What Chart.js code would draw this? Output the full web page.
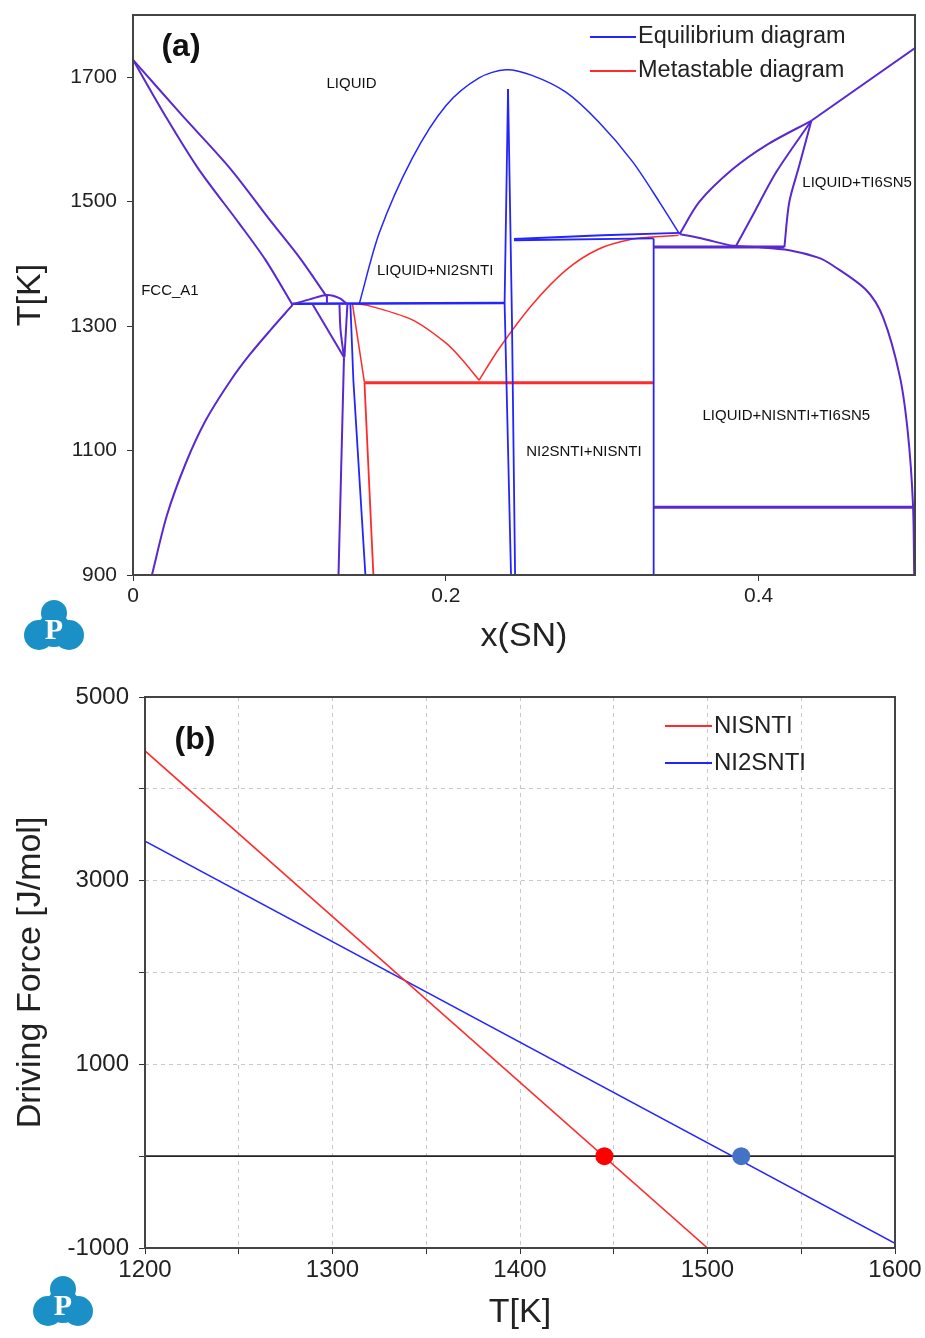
<!DOCTYPE html>
<html lang="en">
<head>
<meta charset="UTF-8">
<title>Ni-Sn-Ti phase diagram and driving force</title>
<script src="https://cdn.jsdelivr.net/npm/chart.js"></script>
<style>
  body { margin: 0; background: #fff; }
  #wrap { position: relative; width: 925px; height: 1338px; }
  canvas { position: absolute; left: 0; }
</style>
</head>
<body>
<div id="wrap">
  <canvas id="phaseChart" width="925" height="670" style="top:0"></canvas>
  <canvas id="forceChart" width="925" height="668" style="top:670px"></canvas>
</div>
<script>
// ---------- (a) phase diagram data: [x(SN), T] ----------
const phaseXTicks = [0, 0.2, 0.4];
const phaseYTicks = [900, 1100, 1300, 1500, 1700];

// lines shared by the equilibrium and metastable diagrams (drawn purple)
const fccLiquidus = [[0,1728],[0.0313,1639],[0.0619,1554],[0.0886,1467],[0.1065,1410],[0.1237,1348]];
const fccSolidus = [[0,1728],[0.0204,1639],[0.0415,1554],[0.0682,1464],[0.0848,1406],[0.102,1334]];
const fccSolvus = [[0.102,1334],[0.088,1294],[0.0746,1254],[0.0625,1213],[0.0466,1149],[0.0338,1080],[0.0217,996],[0.0121,900]];
const smallDome = [[0.102,1335],[0.113,1343],[0.124,1350],[0.132,1345],[0.1365,1336]];
const lensLeft = [[0.132,1335],[0.1327,1294],[0.1349,1250]];
const nisntiLiquidus = [[0.3495,1448],[0.365,1440],[0.3839,1429],[0.40,1427],[0.4196,1422],[0.4381,1410],[0.4477,1397],[0.4688,1358],[0.4796,1314],[0.4904,1218],[0.4955,1127],[0.4987,1014],[0.4995,900]];
const ti6sn5Liquidus = [[0.3495,1448],[0.3622,1500],[0.3833,1552],[0.405,1591],[0.4337,1630]];
const ti6sn5Left = [[0.3852,1427],[0.396,1477],[0.4114,1548],[0.4337,1630]];
const ti6sn5Right = [[0.4165,1427],[0.4196,1499],[0.426,1558],[0.4337,1630]];

const domeTie = [[0.124,1350],[0.124,1336]];
const eutecticDiag = [[0.1148,1335],[0.1349,1250]];
const lensRight = [[0.1371,1336],[0.1352,1250]];
const ni3snLine = [[0.1349,1250],[0.1314,900]];
const snLiquidus = [[0.4337,1630],[0.5,1747]];
const peritecticLine = [[0.3329,1427],[0.4165,1427]];
const ternaryLine = [[0.3329,1009],[0.4987,1009]];

// equilibrium only (blue)
const ni2sntiLiquidus = [[0.1448,1337],[0.1575,1450],[0.1786,1570],[0.2003,1655],[0.2213,1699],[0.2385,1712],[0.2551,1703],[0.2768,1676],[0.2978,1628],[0.3195,1564],[0.3367,1499],[0.3495,1448]];
const ni2sntiLeft = [[0.139,1335],[0.1409,1213],[0.1486,900]];
const eutecticLine = [[0.102,1336],[0.2379,1337]];
const spikeLeft = [[0.2398,1681],[0.2376,1337],[0.2417,900]];
const spikeRight = [[0.2398,1681],[0.2423,1310],[0.2443,900]];
const wedgeTop = [[0.2436,1440],[0.30,1446],[0.3495,1450]];
const wedgeBottom = [[0.2436,1438],[0.3329,1441]];
const nisntiLine = [[0.3329,1441],[0.3329,900]];

// metastable only (red)
const metaLiquidusL = [[0.1403,1336],[0.149,1334],[0.1786,1310],[0.20,1273],[0.2105,1246],[0.2213,1213]];
const metaLiquidusR = [[0.2213,1213],[0.2341,1264],[0.2551,1334],[0.2768,1390],[0.2978,1424],[0.3195,1440],[0.3361,1444],[0.3488,1446]];
const metaNi2snti = [[0.1403,1336],[0.1435,1283],[0.148,1209]];
const metaNi2sntiLow = [[0.148,1209],[0.1537,900]];
const metaEutectic = [[0.148,1209],[0.3329,1209]];

const phaseLabels = ['LIQUID', 'FCC_A1', 'LIQUID+NI2SNTI', 'LIQUID+TI6SN5', 'LIQUID+NISNTI+TI6SN5', 'NI2SNTI+NISNTI'];
const phaseLabelX = [0.1397, 0.0236, 0.1932, 0.4630, 0.4177, 0.2883];
const phaseLabelT = [1689, 1356, 1389, 1530, 1156, 1098];

// ---------- (b) driving force data ----------
const forceXTicks = [1200, 1250, 1300, 1350, 1400, 1450, 1500, 1550, 1600];
const forceYTicks = [-1000, 0, 1000, 2000, 3000, 4000, 5000];
const nisntiT = [1200, 1500];
const nisntiDF = [4413, -1000];
const ni2sntiT = [1200, 1600];
const ni2sntiDF = [3430, -950];
const zeroT = [1200, 1600];
const zeroDF = [0, 0];
const crossT = [1445, 1518];
const crossDF = [0, 0];

const PURPLE = '#5a28d0', BLUE = '#2424ff', RED = '#ff2a2a';

Chart.defaults.font.family = "'Liberation Sans', Arial, Helvetica, sans-serif";
Chart.defaults.color = '#222';

function curveSet(curves, color, width, order, tension) {
  return curves.map(c => ({
    data: c.map(p => ({ x: p[0], y: p[1] })),
    borderColor: color,
    borderWidth: width,
    pointRadius: 0,
    showLine: true,
    fill: false,
    tension: tension,
    order: order
  }));
}

function drawLogo(ctx, cx, cy) {
  ctx.save();
  ctx.fillStyle = '#1a90c6';
  [[0, -14, 13], [-15, 8, 15], [15, 8, 15], [0, 3, 17]].forEach(c => {
    ctx.beginPath();
    ctx.arc(cx + c[0], cy + c[1], c[2], 0, Math.PI * 2);
    ctx.fill();
  });
  ctx.fillStyle = '#fff';
  ctx.font = "bold 30px 'Liberation Serif', 'DejaVu Serif', serif";
  ctx.textAlign = 'center';
  ctx.textBaseline = 'middle';
  ctx.fillText('P', cx, cy + 4);
  ctx.restore();
}

function legendRow(ctx, x1, x2, y, color, text, size) {
  ctx.strokeStyle = color;
  ctx.lineWidth = 2;
  ctx.beginPath();
  ctx.moveTo(x1, y);
  ctx.lineTo(x2, y);
  ctx.stroke();
  ctx.fillStyle = '#222';
  ctx.font = size + "px 'Liberation Sans', Arial, sans-serif";
  ctx.textAlign = 'left';
  ctx.textBaseline = 'middle';
  ctx.fillText(text, x2 + 2, y);
}

// the scales' own edge padding is dropped so the plot area sits where the layout puts it
function fixX(h) { return s => { s.height = h; s.paddingLeft = 0; s.paddingRight = 0; }; }
function fixY(w) { return s => { s.width = w; s.paddingTop = 0; s.paddingBottom = 0; }; }

const framePlugin = {
  id: 'frame',
  afterDatasetsDraw(chart) {
    const { ctx, chartArea: a } = chart;
    ctx.save();
    ctx.strokeStyle = '#444';
    ctx.lineWidth = 2;
    ctx.strokeRect(a.left, a.top, a.right - a.left, a.bottom - a.top);
    ctx.restore();
  }
};

const phaseDecor = {
  id: 'phaseDecor',
  afterDraw(chart) {
    const { ctx, scales: { x, y } } = chart;
    ctx.save();
    ctx.fillStyle = '#111';
    ctx.font = "15px 'Liberation Sans', Arial, sans-serif";
    ctx.textAlign = 'center';
    ctx.textBaseline = 'middle';
    phaseLabels.forEach((t, i) => ctx.fillText(t, x.getPixelForValue(phaseLabelX[i]), y.getPixelForValue(phaseLabelT[i])));
    ctx.font = "bold 32px 'Liberation Sans', Arial, sans-serif";
    ctx.fillText('(a)', 181, 47);
    legendRow(ctx, 590, 636, 37, BLUE, 'Equilibrium diagram', 23.5);
    legendRow(ctx, 590, 636, 71, RED, 'Metastable diagram', 23.5);
    ctx.restore();
    drawLogo(ctx, 54, 627);
  }
};

const forceDecor = {
  id: 'forceDecor',
  afterDraw(chart) {
    const { ctx } = chart;
    ctx.save();
    ctx.fillStyle = '#111';
    ctx.font = "bold 32px 'Liberation Sans', Arial, sans-serif";
    ctx.textAlign = 'center';
    ctx.textBaseline = 'middle';
    ctx.fillText('(b)', 195, 70);
    legendRow(ctx, 665, 712, 56, RED, 'NISNTI', 24);
    legendRow(ctx, 665, 712, 93, BLUE, 'NI2SNTI', 24);
    ctx.restore();
    drawLogo(ctx, 63, 633);
  }
};

const phaseDatasets = [].concat(
  curveSet([fccLiquidus, fccSolidus, fccSolvus, smallDome, lensLeft, nisntiLiquidus, ti6sn5Liquidus, ti6sn5Left, ti6sn5Right], PURPLE, 2, 0, 0.3),
  curveSet([domeTie, eutecticDiag, lensRight, ni3snLine, snLiquidus], PURPLE, 2, 0, 0),
  curveSet([peritecticLine, ternaryLine], PURPLE, 3, 0, 0),
  curveSet([ni2sntiLiquidus], BLUE, 1.5, 1, 0.3),
  curveSet([ni2sntiLeft, spikeLeft, spikeRight, wedgeTop, wedgeBottom, nisntiLine], BLUE, 1.8, 1, 0),
  curveSet([eutecticLine], BLUE, 2.5, 1, 0),
  curveSet([metaLiquidusL, metaLiquidusR, metaNi2snti], RED, 1.5, 2, 0.3),
  curveSet([metaNi2sntiLow], RED, 1.8, 2, 0),
  curveSet([metaEutectic], RED, 3, 2, 0)
);

new Chart(document.getElementById('phaseChart'), {
  type: 'scatter',
  data: { datasets: phaseDatasets },
  options: {
    responsive: false,
    animation: false,
    layout: { padding: { left: 0, right: 10, top: 15, bottom: 0 } },
    plugins: { legend: { display: false }, tooltip: { enabled: false } },
    scales: {
      x: {
        type: 'linear', min: 0, max: 0.5,
        afterBuildTicks: s => { s.ticks = phaseXTicks.map(v => ({ value: v })); },
        afterFit: fixX(95),
        grid: { drawOnChartArea: false, tickLength: 6, color: '#333' },
        border: { display: false },
        ticks: { font: { size: 21 }, color: '#222', padding: 3, maxRotation: 0, callback: v => String(v) },
        title: { display: true, text: 'x(SN)', font: { size: 34 }, color: '#222', padding: { top: 0, bottom: 13 } }
      },
      y: {
        type: 'linear', min: 900, max: 1800,
        afterBuildTicks: s => { s.ticks = phaseYTicks.map(v => ({ value: v })); },
        afterFit: fixY(133),
        grid: { drawOnChartArea: false, tickLength: 6, color: '#333' },
        border: { display: false },
        ticks: { font: { size: 21 }, color: '#222', padding: 10, callback: v => String(v) },
        title: { display: true, text: 'T[K]', font: { size: 34 }, color: '#222', padding: { top: 10, bottom: 0 } }
      }
    }
  },
  plugins: [framePlugin, phaseDecor]
});

new Chart(document.getElementById('forceChart'), {
  type: 'scatter',
  data: {
    datasets: [
      { label: 'NISNTI', data: nisntiT.map((t, i) => ({ x: t, y: nisntiDF[i] })), showLine: true, borderColor: RED, borderWidth: 1.6, pointRadius: 0, order: 2 },
      { label: 'NI2SNTI', data: ni2sntiT.map((t, i) => ({ x: t, y: ni2sntiDF[i] })), showLine: true, borderColor: BLUE, borderWidth: 1.6, pointRadius: 0, order: 2 },
      { label: 'zero', data: zeroT.map((t, i) => ({ x: t, y: zeroDF[i] })), showLine: true, borderColor: '#222', borderWidth: 1.6, pointRadius: 0, order: 3 },
      { label: 'crossings', data: crossT.map((t, i) => ({ x: t, y: crossDF[i] })), showLine: false, pointRadius: 9, pointBackgroundColor: ['#ff0000', '#4472c4'], pointBorderWidth: 0, order: 0 }
    ]
  },
  options: {
    responsive: false,
    animation: false,
    layout: { padding: { left: 0, right: 30, top: 27, bottom: 0 } },
    plugins: { legend: { display: false }, tooltip: { enabled: false } },
    scales: {
      x: {
        type: 'linear', min: 1200, max: 1600,
        afterBuildTicks: s => { s.ticks = forceXTicks.map(v => ({ value: v })); },
        afterFit: fixX(90),
        grid: { color: '#c8c8c8', tickColor: '#333', tickLength: 6, tickBorderDash: [] },
        border: { display: false, dash: [4, 4] },
        ticks: { font: { size: 24 }, color: '#222', padding: 2, maxRotation: 0, autoSkip: false, callback: v => (v % 100 === 0 ? String(v) : '') },
        title: { display: true, text: 'T[K]', font: { size: 34 }, color: '#222', padding: { top: 0, bottom: 5 } }
      },
      y: {
        type: 'linear', min: -1000, max: 5000,
        afterBuildTicks: s => { s.ticks = forceYTicks.map(v => ({ value: v })); },
        afterFit: fixY(145),
        grid: { color: '#c8c8c8', tickColor: '#333', tickLength: 6, tickBorderDash: [] },
        border: { display: false, dash: [4, 4] },
        ticks: { font: { size: 24 }, color: '#222', padding: 10, autoSkip: false, callback: v => (Math.abs(v / 1000) % 2 === 1 ? String(v) : '') },
        title: { display: true, text: 'Driving Force [J/mol]', font: { size: 34 }, color: '#222', padding: { top: 10, bottom: 0 } }
      }
    }
  },
  plugins: [framePlugin, forceDecor]
});
</script>
</body>
</html>
